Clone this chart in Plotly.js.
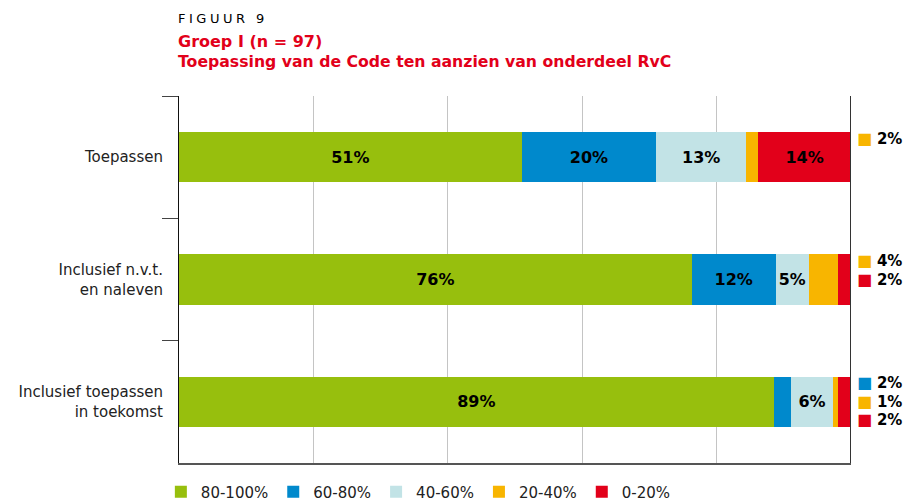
<!DOCTYPE html>
<html>
<head>
<meta charset="utf-8">
<script src="https://cdn.plot.ly/plotly-3.0.1.min.js"></script>
<style>html,body{margin:0;padding:0;background:#fff;}#chart{width:910px;height:503px;}</style>
</head>
<body>
<div id="chart"></div>
<script>
// Categories (top to bottom)
var categories = ["Toepassen", "Inclusief n.v.t.<br>en naleven", "Inclusief toepassen<br>in toekomst"];
// Series names
var seriesNames = ["80-100%", "60-80%", "40-60%", "20-40%", "0-20%"];
// Segment sizes (percent)
var v80_100 = [51.0, 76.3, 88.5];
var v60_80  = [20.0, 12.5, 2.6];
var v40_60  = [13.4, 4.9, 6.2];
var v20_40  = [1.8, 4.3, 0.7];
var v0_20   = [13.8, 2.0, 2.0];
// Printed (rounded) labels
var l80_100 = [51, 76, 89];
var l60_80  = [20, 12, 2];
var l40_60  = [13, 5, 6];
var l20_40  = [2, 4, 1];
var l0_20   = [14, 2, 2];

var colors = ["#97bf0d", "#0089cc", "#c2e3e6", "#f8b500", "#e2001a"];
var values = [v80_100, v60_80, v40_60, v20_40, v0_20];
var labels = [l80_100, l60_80, l40_60, l20_40, l0_20];
var minInside = 4.5;

var font = "DejaVu Sans, Verdana, sans-serif";
var traces = values.map(function (vals, s) {
  return {
    type: "bar",
    orientation: "h",
    name: seriesNames[s],
    y: categories,
    x: vals,
    marker: {color: colors[s], line: {width: 0}},
    text: vals.map(function (v, i) { return v >= minInside ? "<b>" + labels[s][i] + "%</b>" : ""; }),
    textposition: "inside",
    insidetextanchor: "middle",
    textangle: 0,
    textfont: {family: font, size: 16, color: "#000"},
    hoverinfo: "skip",
    width: 0.41
  };
});

var annotations = [
  {text: '<span style="letter-spacing:3.5px">FIGUUR 9</span>', xref: "paper", yref: "paper", x: 0, y: 1.21, xanchor: "left", yanchor: "middle", xshift: -3, showarrow: false, font: {family: font, size: 13, color: "#000"}},
  {text: "<b>Groep I (n = 97)</b>", xref: "paper", yref: "paper", x: 0, y: 1.149, xanchor: "left", yanchor: "middle", xshift: -3, showarrow: false, font: {family: font, size: 16, color: "#e2001a"}},
  {text: "<b>Toepassing van de Code ten aanzien van onderdeel RvC</b>", xref: "paper", yref: "paper", x: 0, y: 1.094, xanchor: "left", yanchor: "middle", xshift: -3, showarrow: false, font: {family: font, size: 15.7, color: "#e2001a"}}
];

// Side labels for segments too small to carry their label inside
categories.forEach(function (cat, i) {
  var k = 0;
  values.forEach(function (vals, s) {
    if (vals[i] < minInside) {
      annotations.push({
        text: '<span style="color:' + colors[s] + ';font-size:16px">■</span> <b>' + labels[s][i] + '%</b>',
        xref: "paper", yref: "y", x: 1, y: cat,
        xanchor: "left", yanchor: "middle",
        xshift: 5, yshift: 19 - 18.5 * k,
        borderpad: 0,
        showarrow: false,
        font: {family: font, size: 15, color: "#000"}
      });
      k++;
    }
  });
});

var layout = {
  width: 910, height: 503,
  margin: {l: 179, r: 59, t: 96, b: 40, pad: 0, autoexpand: false},
  paper_bgcolor: "#fff", plot_bgcolor: "#fff",
  barmode: "stack",
  bargap: 0.59,
  showlegend: true,
  legend: {orientation: "h", x: -0.027, xanchor: "left", y: -0.034, yanchor: "top",
           font: {family: font, size: 15, color: "#222"}, itemwidth: 30, traceorder: "normal"},
  xaxis: {range: [0, 100], dtick: 20, tick0: 0, showgrid: true, gridcolor: "#c4c4c4", gridwidth: 1,
          zeroline: false, showline: true, linecolor: "#555", linewidth: 2,
          showticklabels: false, ticks: "", fixedrange: true},
  yaxis: {type: "category", autorange: "reversed", showgrid: false, zeroline: false,
          showline: true, linecolor: "#111", linewidth: 1,
          ticks: "outside", tickson: "boundaries", ticklen: 16, tickcolor: "#444", tickwidth: 1,
          ticklabelstandoff: 12,
          tickfont: {family: font, size: 15, color: "#222"}, fixedrange: true},
  shapes: [{type: "line", xref: "x", yref: "paper", x0: 100, x1: 100, y0: 0, y1: 1,
            line: {color: "#333", width: 2}}],
  annotations: annotations
};

Plotly.newPlot("chart", traces, layout, {displayModeBar: false, staticPlot: true});
</script>
</body>
</html>
